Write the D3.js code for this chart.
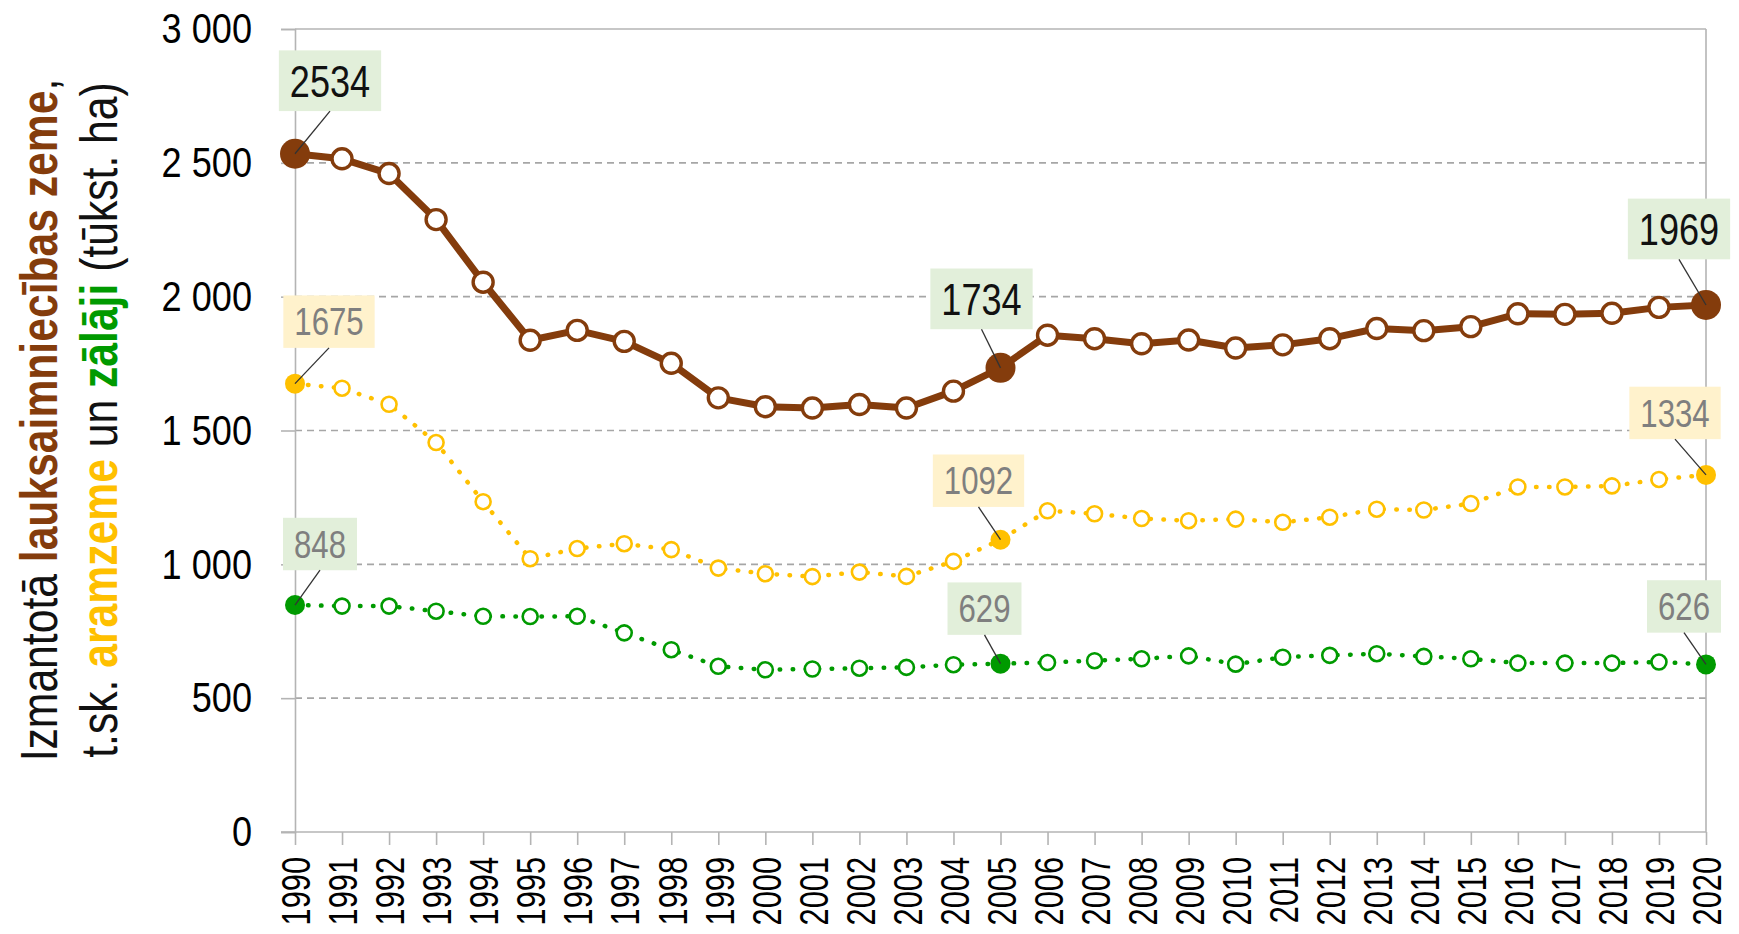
<!DOCTYPE html>
<html>
<head>
<meta charset="utf-8">
<script src="https://cdn.jsdelivr.net/npm/d3@7"></script>
<style>
  html, body { margin: 0; padding: 0; background: #fff; }
  svg text { font-family: 'Liberation Sans', Arial, sans-serif; }
</style>
</head>
<body>
<svg id="chart" width="1739" height="934"></svg>
<script>
var years = [1990, 1991, 1992, 1993, 1994, 1995, 1996, 1997, 1998, 1999,
             2000, 2001, 2002, 2003, 2004, 2005, 2006, 2007, 2008, 2009,
             2010, 2011, 2012, 2013, 2014, 2015, 2016, 2017, 2018, 2019, 2020];

// izmantotā lauksaimniecības zeme (tūkst. ha)
var farmland = [2534, 2515, 2460, 2288, 2054, 1837, 1874, 1833, 1751, 1622,
                1589, 1584, 1597, 1584, 1647, 1734, 1856, 1843, 1824, 1838,
                1808, 1820, 1843, 1881, 1873, 1888, 1936, 1934, 1938, 1960, 1969];

// aramzeme
var arable = [1675, 1658, 1598, 1455, 1234, 1021, 1059, 1077, 1055, 986,
              965, 954, 971, 955, 1011, 1092, 1200, 1189, 1171, 1163,
              1169, 1157, 1176, 1206, 1203, 1227, 1289, 1289, 1293, 1317, 1334];

// zālāji
var grassland = [848, 844, 844, 825, 806, 805, 806, 744, 681, 619,
                 606, 609, 612, 615, 625, 629, 633, 640, 647, 658,
                 627, 653, 660, 666, 656, 647, 631, 631, 631, 635, 626];

var yTicks = [0, 500, 1000, 1500, 2000, 2500, 3000];
var labelledYears = [1990, 2005, 2020];

// ---- layout ----
var plotL = 295, plotR = 1706, plotT = 29, plotB = 832;
var NARROW = 0.82;   // no Arial Narrow here, so squeeze Liberation Sans

var colors = {
  brown: '#843C0C',
  gold: '#FFC000',
  green: '#009A00',
  boxGreen: '#E2EFDA',
  boxGold: '#FFF2CC',
  grid: '#A6A6A6',
  axis: '#B4B4B4'
};

var series = [
  { key: 'arable', values: arable, color: colors.gold, width: 4.5, dash: '0.5 12.5',
    r: 7.5, rBig: 10, markerStroke: 2.6, box: colors.boxGold, text: '#7F7F7F', font: 38,
    offsets: [[34, -62], [-22, -59], [-31, -62]] },
  { key: 'grassland', values: grassland, color: colors.green, width: 4.5, dash: '0.5 12.5',
    r: 7.5, rBig: 10, markerStroke: 2.6, box: colors.boxGreen, text: '#7F7F7F', font: 38,
    offsets: [[25, -61], [-16, -55], [-22, -58]] },
  { key: 'farmland', values: farmland, color: colors.brown, width: 7, dash: null,
    r: 10, rBig: 15, markerStroke: 3.4, box: colors.boxGreen, text: '#111', font: 44,
    offsets: [[35, -73], [-19, -69], [-27, -76]] }
];

var svg = d3.select('#chart');

var x = d3.scalePoint().domain(years).range([plotL, plotR]);
var y = d3.scaleLinear().domain([0, 3000]).range([plotB, plotT]);

function fmt( v ) {
  return v >= 1000 ? d3.format(',')(v).replace(',', ' ') : String(v);
}

// squeeze text horizontally along its own baseline
function condense( sel, k ) {
  sel.each(function() {
    var len = this.getComputedTextLength();
    d3.select(this)
      .attr('textLength', len * (k || NARROW))
      .attr('lengthAdjust', 'spacingAndGlyphs');
  });
}

// grid lines
svg.append('g')
  .selectAll('line')
  .data(yTicks.filter(function(d) { return d > 0 && d < 3000; }))
  .enter().append('line')
    .attr('x1', plotL).attr('x2', plotR)
    .attr('y1', function(d) { return y(d); })
    .attr('y2', function(d) { return y(d); })
    .attr('stroke', colors.grid)
    .attr('stroke-width', 1.6)
    .attr('stroke-dasharray', '7 5');

// frame top + right
svg.append('line').attr('x1', plotL).attr('x2', plotR).attr('y1', plotT).attr('y2', plotT)
  .attr('stroke', colors.axis).attr('stroke-width', 1.6);
svg.append('line').attr('x1', plotR).attr('x2', plotR).attr('y1', plotT).attr('y2', plotB)
  .attr('stroke', colors.axis).attr('stroke-width', 1.6);

// y axis
var yAxis = svg.append('g')
  .attr('transform', 'translate(' + plotL + ',0)')
  .call(d3.axisLeft(y).tickValues(yTicks).tickSize(14).tickPadding(29).tickFormat(fmt));
yAxis.select('.domain').attr('stroke', colors.axis).attr('stroke-width', 1.6);
yAxis.selectAll('.tick line').attr('stroke', colors.axis).attr('stroke-width', 1.6);
yAxis.selectAll('.tick text')
  .attr('font-size', 43)
  .attr('fill', '#000')
  .style('white-space', 'pre');
yAxis.attr('font-family', null);
condense(yAxis.selectAll('.tick text'), 0.84);

// x axis
var xAxis = svg.append('g')
  .attr('transform', 'translate(0,' + plotB + ')')
  .call(d3.axisBottom(x).tickSize(13).tickSizeOuter(0));
xAxis.select('.domain').attr('d', 'M' + (plotL - 14) + ',0H' + plotR)
  .attr('stroke', colors.axis).attr('stroke-width', 1.6);
xAxis.selectAll('.tick line').attr('stroke', colors.axis).attr('stroke-width', 1.6);
xAxis.selectAll('.tick text')
  .attr('font-size', 41)
  .attr('fill', '#000')
  .attr('transform', 'rotate(-90)')
  .attr('text-anchor', 'end')
  .attr('x', -25)
  .attr('y', 0)
  .attr('dy', '0.36em');
xAxis.attr('font-family', null);
condense(xAxis.selectAll('.tick text'), 0.75);

// lines
var line = d3.line()
  .x(function(d, i) { return x(years[i]); })
  .y(function(d) { return y(d); });

series.forEach(function(s) {
  svg.append('path')
    .datum(s.values)
    .attr('d', line)
    .attr('fill', 'none')
    .attr('stroke', s.color)
    .attr('stroke-width', s.width)
    .attr('stroke-linecap', 'round')
    .attr('stroke-linejoin', 'round')
    .attr('stroke-dasharray', s.dash);
});

// markers
series.forEach(function(s) {
  svg.append('g')
    .selectAll('circle')
    .data(s.values)
    .enter().append('circle')
      .attr('cx', function(d, i) { return x(years[i]); })
      .attr('cy', function(d) { return y(d); })
      .attr('r', function(d, i) {
        return labelledYears.indexOf(years[i]) >= 0 ? s.rBig : s.r;
      })
      .attr('fill', function(d, i) {
        return labelledYears.indexOf(years[i]) >= 0 ? s.color : '#fff';
      })
      .attr('stroke', s.color)
      .attr('stroke-width', function(d, i) {
        return labelledYears.indexOf(years[i]) >= 0 ? 0 : s.markerStroke;
      });
});

// callouts
series.forEach(function(s) {
  labelledYears.forEach(function(yr, k) {
    var i = years.indexOf(yr),
        px = x(yr),
        py = y(s.values[i]),
        cx = px + s.offsets[k][0],
        cy = py + s.offsets[k][1];

    var g = svg.append('g');
    var rect = g.append('rect');
    var txt = g.append('text')
      .attr('x', cx)
      .attr('y', cy)
      .attr('dy', '0.36em')
      .attr('text-anchor', 'middle')
      .attr('font-size', s.font)
      .attr('fill', s.text)
      .text(s.values[i]);
    condense(txt);

    var tw = txt.node().getComputedTextLength(),
        bw = tw + 22,
        bh = s.font * 1.38;
    rect.attr('x', cx - bw / 2).attr('y', cy - bh / 2)
      .attr('width', bw).attr('height', bh)
      .attr('fill', s.box);

    svg.append('line')
      .attr('x1', cx).attr('y1', cy + bh / 2)
      .attr('x2', px).attr('y2', py)
      .attr('stroke', '#333')
      .attr('stroke-width', 1.3);
  });
});

// y title, two lines, coloured words
var titleLines = [
  { x: 57, parts: [
    { t: 'Izmantotā ', c: '#111', b: false },
    { t: 'lauksaimniecības zeme', c: colors.brown, b: true },
    { t: ',', c: '#111', b: false } ] },
  { x: 117, parts: [
    { t: 't.sk. ', c: '#111', b: false },
    { t: 'aramzeme', c: colors.gold, b: true },
    { t: ' un ', c: '#111', b: false },
    { t: 'zālāji', c: colors.green, b: true },
    { t: ' (tūkst. ha)', c: '#111', b: false } ] }
];

titleLines.forEach(function(l) {
  var t = svg.append('text')
    .attr('transform', 'translate(' + l.x + ',420) rotate(-90)')
    .attr('text-anchor', 'middle')
    .attr('font-size', 52)
    .attr('fill', '#111')
    .style('white-space', 'pre');
  l.parts.forEach(function(p) {
    t.append('tspan')
      .attr('fill', p.c)
      .attr('font-weight', p.b ? 'bold' : 'normal')
      .text(p.t);
  });
  condense(t);
});
</script>
</body>
</html>
